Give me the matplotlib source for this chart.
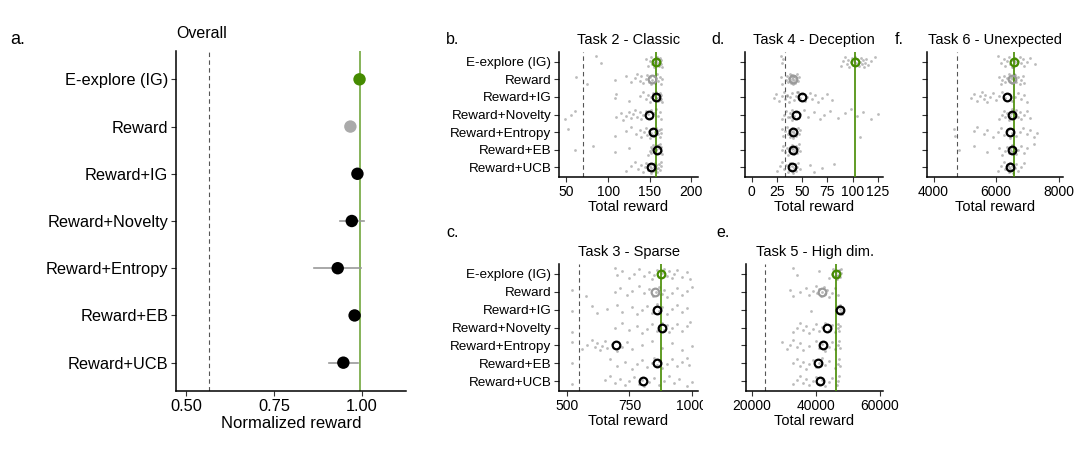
import numpy as np
import matplotlib
matplotlib.use("Agg")
import matplotlib.pyplot as plt
from matplotlib.transforms import Bbox

plt.rcParams['font.family'] = ['Liberation Sans', 'DejaVu Sans']

W, H = 1075, 449

models = ["E-explore (IG)", "Reward", "Reward+IG", "Reward+Novelty",
          "Reward+Entropy", "Reward+EB", "Reward+UCB"]

# overall normalized reward (mean, lower, upper)
overall_mean = [0.993, 0.967, 0.987, 0.971, 0.931, 0.979, 0.947]
overall_lo = [0.990, 0.964, 0.980, 0.938, 0.864, 0.972, 0.907]
overall_hi = [0.996, 0.970, 0.995, 1.005, 0.998, 0.986, 0.988]
overall_ref = 0.995
overall_rand = 0.565

# task 2 - classic
t2_runs = [
    [86, 91, 145, 148, 150, 152, 153, 154, 155, 156, 157, 158, 158, 159, 160, 160, 161, 162, 162, 163, 164, 165, 155, 157],
    [62, 75, 108, 122, 128, 132, 135, 138, 140, 142, 145, 147, 149, 150, 152, 153, 155, 156, 158, 159, 160, 162, 163, 165],
    [108, 110, 125, 138, 142, 145, 148, 150, 152, 154, 155, 156, 157, 158, 159, 160, 161, 162, 163, 164, 165, 158, 160, 162],
    [48, 55, 60, 110, 115, 118, 122, 125, 128, 130, 132, 135, 138, 140, 142, 145, 150, 155, 158, 160, 162, 163, 148, 152],
    [52, 108, 122, 128, 133, 138, 140, 143, 145, 147, 149, 150, 152, 153, 155, 156, 158, 160, 161, 162, 163, 164, 154, 157],
    [60, 82, 108, 125, 148, 150, 151, 152, 153, 154, 155, 156, 157, 158, 159, 160, 161, 162, 163, 164, 165, 158, 160, 156],
    [122, 128, 132, 136, 140, 142, 144, 146, 148, 150, 151, 152, 153, 154, 155, 156, 157, 158, 159, 160, 161, 162, 163, 164],
]
t2_mean = [157, 153, 158, 149, 154, 159, 152]

# task 3 - sparse
t3_runs = [
    [690, 700, 720, 750, 770, 790, 810, 830, 840, 850, 860, 870, 880, 890, 900, 910, 920, 930, 940, 960, 980, 995],
    [520, 575, 690, 710, 740, 760, 790, 810, 830, 845, 855, 870, 880, 890, 900, 920, 940, 960, 980, 1000],
    [520, 600, 620, 660, 700, 720, 760, 780, 800, 820, 840, 850, 860, 870, 880, 900, 920, 940, 960, 980],
    [520, 690, 720, 750, 780, 800, 820, 840, 860, 870, 880, 890, 900, 910, 920, 940, 960, 980, 995],
    [520, 560, 580, 600, 610, 620, 630, 640, 650, 660, 680, 700, 720, 740, 760, 800, 840, 880, 920, 960, 1000],
    [520, 670, 700, 730, 760, 780, 800, 820, 840, 850, 860, 870, 880, 900, 920, 940, 960, 980, 990],
    [520, 650, 670, 690, 710, 730, 750, 770, 790, 800, 810, 830, 850, 870, 890, 910, 930, 950, 980, 1000],
]
t3_mean = [876, 852, 859, 881, 697, 859, 804]

# task 4 - deception
t4_runs = [
    [29, 30, 31, 88, 90, 92, 94, 95, 96, 98, 99, 100, 101, 102, 103, 104, 106, 107, 108, 109, 110, 111, 112, 113, 115, 118, 122],
    [29, 30, 34, 35, 36, 37, 38, 38, 39, 39, 40, 40, 40, 41, 41, 42, 42, 43, 44, 45, 46, 47],
    [22, 24, 27, 30, 32, 33, 35, 37, 38, 40, 42, 44, 46, 48, 50, 53, 55, 58, 60, 63, 66, 70, 75, 80, 35, 45],
    [30, 32, 34, 36, 38, 40, 42, 44, 46, 48, 52, 56, 62, 68, 72, 78, 85, 92, 98, 104, 110, 118, 125, 40, 38],
    [30, 31, 33, 35, 36, 37, 38, 39, 40, 40, 41, 41, 42, 43, 44, 45, 46, 47, 48, 107],
    [30, 31, 33, 35, 36, 37, 38, 39, 40, 40, 41, 41, 42, 43, 44, 45, 46, 47, 48],
    [25, 28, 30, 32, 34, 36, 37, 38, 39, 40, 41, 42, 43, 44, 45, 46, 48, 58, 62, 70, 82],
]
t4_mean = [102.5, 40.5, 50, 43.5, 41, 41, 40]

# task 5 - high dim.
t5_runs = [
    [33000, 34000, 41000, 44000, 45000, 45500, 46000, 46300, 46600, 47000, 47200, 47500, 47800, 48000, 46800, 47300],
    [32000, 33000, 35000, 37000, 38000, 39000, 40000, 40500, 41000, 41500, 42000, 42500, 43000, 43500, 44000, 45000, 46000, 47000],
    [38500, 47000, 47300, 47500, 47700, 47900, 48100, 48300, 48500, 47600, 47800],
    [33000, 34000, 35000, 36000, 37000, 38000, 39000, 40000, 41000, 42000, 43000, 44000, 45000, 46000, 46800, 47000, 47300, 47600],
    [29500, 31000, 32000, 33000, 34000, 35000, 36000, 38000, 40000, 41000, 42000, 43000, 44000, 45000, 46000, 47000, 47300, 47600],
    [33000, 34000, 35000, 36000, 37000, 38000, 39000, 40000, 41000, 42000, 43000, 44000, 46000, 47000, 47300, 47600],
    [33000, 34000, 35000, 36000, 37000, 38000, 39000, 40000, 41000, 42000, 43000, 44000, 45000, 46500, 47000, 47400],
]
t5_mean = [46450, 41800, 47480, 43660, 42300, 40750, 41270]

# task 6 - unexpected
t6_runs = [
    [6050, 6150, 6250, 6300, 6350, 6400, 6450, 6500, 6550, 6600, 6620, 6650, 6700, 6750, 6800, 6850, 6900, 7000, 7100, 7250, 6580, 6520],
    [6100, 6150, 6200, 6250, 6300, 6350, 6400, 6450, 6500, 6520, 6550, 6600, 6650, 6700, 6750, 6800, 6850, 6900, 6480, 6560],
    [5200, 5300, 5400, 5500, 5550, 5600, 5650, 5700, 5800, 5900, 6000, 6100, 6200, 6300, 6400, 6500, 6600, 6700, 6800, 6900, 7000],
    [6100, 6200, 6250, 6300, 6350, 6400, 6450, 6500, 6550, 6600, 6650, 6700, 6750, 6800, 6900, 7000, 7100, 6480, 6520],
    [4650, 4700, 5300, 5400, 5600, 5700, 5900, 6050, 6150, 6250, 6350, 6450, 6500, 6550, 6650, 6750, 6850, 7000, 7100, 7200, 7300, 6420],
    [4800, 5300, 5700, 6100, 6200, 6300, 6350, 6400, 6450, 6500, 6550, 6600, 6650, 6700, 6800, 6900, 7000, 7200, 6480, 6520],
    [6050, 6150, 6250, 6300, 6350, 6400, 6420, 6450, 6480, 6500, 6550, 6600, 6650, 6700, 6800, 6900, 6450, 6380],
]
t6_mean = [6580, 6500, 6360, 6500, 6450, 6510, 6450]

GREEN = '#458B00'
GREY = '#9a9a9a'


def px_axes(fig, l, t, r, b):
    return fig.add_axes([l / W, 1 - b / H, (r - l) / W, (b - t) / H])


def style(ax, fs):
    for s in ['top', 'right']:
        ax.spines[s].set_visible(False)
    for s in ['left', 'bottom']:
        ax.spines[s].set_linewidth(1.1)
        ax.spines[s].set_color('black')
    ax.tick_params(length=3.5, width=0.8, color='#333333', labelsize=fs,
                   labelcolor='black', pad=2)


fig = plt.figure(figsize=(W / 100, H / 100), dpi=100)

# ---- a. overall
ax = px_axes(fig, 176, 51, 406, 391)
style(ax, 11.8)
ypos = np.arange(1, 8)
for i in range(7):
    ax.plot([overall_lo[i], overall_hi[i]], [ypos[i]] * 2, color=GREY, lw=1.2, zorder=2)
ax.axvline(overall_ref, color=GREEN, alpha=0.7, lw=1.3, zorder=1)
ax.axvline(overall_rand, color='#555555', lw=0.8, ls=(0, (4, 3)), zorder=1)
cols = [GREEN, '#aaaaaa'] + ['black'] * 5
ax.scatter(overall_mean, ypos, s=80, c=cols, zorder=3, linewidths=0)
ax.set_xlim(0.4716, 1.125)
ax.set_ylim(7.6, 0.4)
ax.set_xticks([0.5, 0.75, 1.0])
ax.set_xticklabels(['0.50', '0.75', '1.00'])
ax.set_yticks(ypos)
ax.set_yticklabels(models)
ax.set_xlabel('Normalized reward', fontsize=12, labelpad=2)
ax.set_title('Overall', fontsize=11.5, loc='left', pad=9)

# ---- small task panels
panels = [
    # runs, means, ref, rand, xlim, xticks, title, box(l,t,r,b), show labels
    (t2_runs, t2_mean, 157, 70, (41, 208), [50, 100, 150, 200], 'Task 2 - Classic', (559, 52, 698, 177), True),
    (t4_runs, t4_mean, 102.5, 33.5, (-6.5, 130), [0, 25, 50, 75, 100, 125], 'Task 4 - Deception', (745, 52, 883, 177), False),
    (t6_runs, t6_mean, 6580, 4750, (3790, 8140), [4000, 6000, 8000], 'Task 6 - Unexpected', (927, 52, 1063, 177), False),
    (t3_runs, t3_mean, 876, 546, (466, 1026), [500, 750, 1000], 'Task 3 - Sparse', (559, 264, 698, 391), True),
    (t5_runs, t5_mean, 46450, 24200, (18200, 61000), [20000, 40000, 60000], 'Task 5 - High dim.', (746, 264, 883, 391), False),
]

for runs, means, ref, rand, xlim, xticks, title, box, show in panels:
    ax = px_axes(fig, *box)
    style(ax, 9.7)
    for i, vals in enumerate(runs):
        n = len(vals)
        jit = ((np.arange(n) * 0.6180339 + 0.3 * i) % 1 - 0.5) * 0.62
        ax.scatter(vals, ypos[i] + jit, s=4, color='#6a6a6a', alpha=0.45,
                   linewidths=0, zorder=2)
    ax.axvline(rand, color='#555555', lw=0.8, ls=(0, (4, 3)), zorder=1)
    ax.axvline(ref, color=GREEN, lw=1.2, zorder=3)
    ecols = [GREEN, GREY] + ['black'] * 5
    for i in range(7):
        ax.plot(means[i], ypos[i], 'o', ms=5.5, mfc='none', mec=ecols[i],
                mew=1.6, zorder=4)
    ax.set_xlim(*xlim)
    ax.set_ylim(7.55, 0.45)
    ax.set_xticks(xticks)
    ax.set_yticks(ypos)
    if show:
        ax.set_yticklabels(models)
    else:
        ax.set_yticklabels([])
    ax.tick_params(axis='x', labelsize=10)
    ax.set_xlabel('Total reward', fontsize=10.5, labelpad=1)
    ax.set_title(title, fontsize=10.5, pad=6)
    if title == 'Task 3 - Sparse':
        # the last tick label is cut at the panel edge in the original
        lab = ax.xaxis.get_major_ticks()[-1].label1
        lab.set_clip_box(Bbox.from_extents(0, 0, 703, H))
        lab.set_clip_on(True)

# panel letters
for txt, x, y in [('a.', 10, 44), ('b.', 446, 44), ('d.', 711, 44), ('f.', 895, 44),
                  ('c.', 446, 237), ('e.', 716, 237)]:
    fig.text(x / W, 1 - y / H, txt, fontsize=13 if txt == 'a.' else 11.5,
             ha='left', va='baseline')

fig.savefig('out.png', dpi=100)
